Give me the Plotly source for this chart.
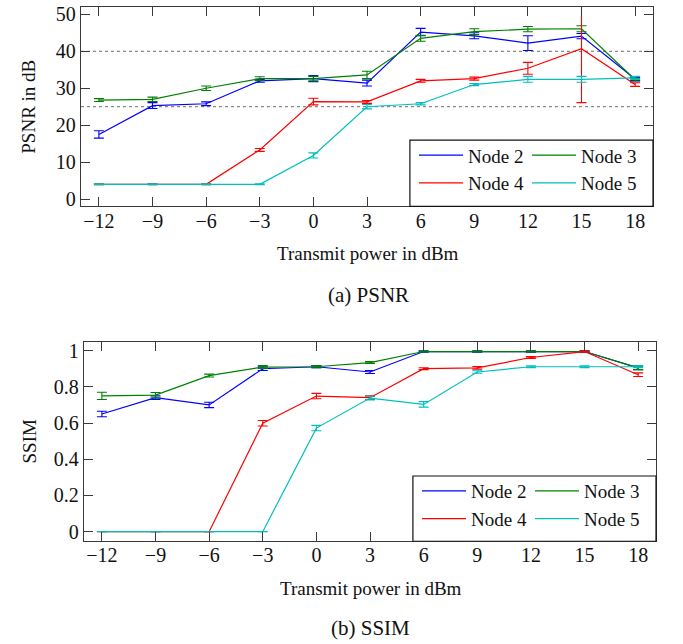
import plotly.graph_objects as go

# ---------------- data ----------------
power_dbm = [-12, -9, -6, -3, 0, 3, 6, 9, 12, 15, 18]
node_names = ["Node 2", "Node 3", "Node 4", "Node 5"]

psnr_node2 = [17.5, 25.3, 25.8, 32.0, 32.6, 31.4, 45.2, 44.2, 42.2, 44.1, 32.5]
psnr_node2_err = [1.0, 0.8, 0.5, 0.4, 0.8, 0.8, 1.0, 0.8, 2.0, 0.7, 0.4]
psnr_node3 = [26.8, 27.0, 30.0, 32.6, 32.6, 33.6, 43.5, 45.3, 46.0, 46.1, 32.3]
psnr_node3_err = [0.4, 0.6, 0.6, 0.5, 0.6, 1.0, 0.8, 0.8, 0.7, 0.8, 0.4]
psnr_node4 = [4.0, 4.0, 4.0, 13.3, 26.4, 26.3, 32.0, 32.6, 35.4, 40.7, 31.0]
psnr_node4_err = [0.1, 0.1, 0.1, 0.4, 0.9, 0.4, 0.4, 0.4, 1.6, 14.6, 0.5]
psnr_node5 = [4.0, 4.0, 4.0, 4.0, 11.8, 25.0, 25.8, 31.0, 32.4, 32.4, 32.8]
psnr_node5_err = [0.1, 0.1, 0.1, 0.1, 0.7, 0.6, 0.3, 0.3, 0.8, 0.8, 0.4]

ssim_node2 = [0.650, 0.740, 0.700, 0.900, 0.911, 0.882, 0.995, 0.995, 0.995, 0.995, 0.905]
ssim_node2_err = [0.015, 0.010, 0.015, 0.010, 0.006, 0.008, 0.004, 0.004, 0.004, 0.004, 0.010]
ssim_node3 = [0.750, 0.754, 0.862, 0.909, 0.911, 0.934, 0.995, 0.995, 0.995, 0.995, 0.905]
ssim_node3_err = [0.020, 0.015, 0.008, 0.008, 0.006, 0.005, 0.003, 0.003, 0.003, 0.003, 0.010]
ssim_node4 = [0.0, 0.0, 0.0, 0.599, 0.749, 0.740, 0.900, 0.905, 0.962, 0.995, 0.867]
ssim_node4_err = [0.0, 0.0, 0.0, 0.015, 0.015, 0.010, 0.005, 0.007, 0.005, 0.003, 0.010]
ssim_node5 = [0.0, 0.0, 0.0, 0.0, 0.572, 0.738, 0.703, 0.882, 0.911, 0.911, 0.911]
ssim_node5_err = [0.0, 0.0, 0.0, 0.0, 0.015, 0.010, 0.015, 0.007, 0.005, 0.005, 0.005]

psnr_reference_lines = [40, 25]

psnr_ticks = [0, 10, 20, 30, 40, 50]
ssim_ticks = [0, 0.2, 0.4, 0.6, 0.8, 1]

# ---------------- style ----------------
colors = ["#0000ff", "#008000", "#ff0000", "#00bfbf"]
FONT = "Liberation Serif, Times New Roman, serif"
W, H = 683, 644
AX = "#3a3a3a"

psnr_series = [(psnr_node2, psnr_node2_err), (psnr_node3, psnr_node3_err),
               (psnr_node4, psnr_node4_err), (psnr_node5, psnr_node5_err)]
ssim_series = [(ssim_node2, ssim_node2_err), (ssim_node3, ssim_node3_err),
               (ssim_node4, ssim_node4_err), (ssim_node5, ssim_node5_err)]

fig = go.Figure()

legend_top = ["legend", "legend2", "legend", "legend2"]
legend_bot = ["legend3", "legend4", "legend3", "legend4"]

for i, (vals, errs) in enumerate(psnr_series):
    fig.add_trace(go.Scatter(
        x=power_dbm, y=vals, mode="lines", name=node_names[i],
        line=dict(color=colors[i], width=1.2),
        error_y=dict(type="data", array=errs, visible=True, color=colors[i],
                     thickness=1.1, width=5),
        xaxis="x", yaxis="y", legend=legend_top[i], showlegend=True))

for i, (vals, errs) in enumerate(ssim_series):
    fig.add_trace(go.Scatter(
        x=power_dbm, y=vals, mode="lines", name=node_names[i],
        line=dict(color=colors[i], width=1.2),
        error_y=dict(type="data", array=errs, visible=True, color=colors[i],
                     thickness=1.1, width=5),
        xaxis="x2", yaxis="y2", legend=legend_bot[i], showlegend=True))


def px_x(p):
    return p / W


def px_y(p):
    return 1 - p / H


axis_common = dict(
    showline=True, linecolor=AX, linewidth=1.3, mirror="ticks",
    ticks="inside", ticklen=9, tickwidth=1.2, tickcolor=AX,
    showgrid=False, zeroline=False,
    tickfont=dict(family=FONT, size=20, color="#111"),
)

fig.update_layout(
    width=W, height=H, margin=dict(l=0, r=0, t=0, b=0),
    paper_bgcolor="white", plot_bgcolor="white",
    font=dict(family=FONT, size=19, color="#111"),
    xaxis=dict(domain=[px_x(81), px_x(653)], range=[-13, 19], tickvals=power_dbm,
               anchor="y", ticklabelstandoff=-4, **axis_common),
    yaxis=dict(domain=[px_y(205), px_y(3)], range=[-2, 52], tickvals=psnr_ticks,
               anchor="x", **axis_common),
    xaxis2=dict(domain=[px_x(84), px_x(656)], range=[-13, 19], tickvals=power_dbm,
                anchor="y2", ticklabelstandoff=-4, **axis_common),
    yaxis2=dict(domain=[px_y(544), px_y(342)], range=[-0.053, 1.049], tickvals=ssim_ticks,
                anchor="x2", **axis_common),
)

leg_common = dict(bgcolor="rgba(0,0,0,0)", borderwidth=0, font=dict(family=FONT, size=19, color="#111"),
                  orientation="v", xanchor="left", yanchor="top", itemwidth=44,
                  tracegroupgap=0, itemclick=False)
fig.update_layout(
    legend=dict(x=px_x(414), y=px_y(134), **leg_common),
    legend2=dict(x=px_x(527), y=px_y(134), **leg_common),
    legend3=dict(x=px_x(417), y=px_y(474), **leg_common),
    legend4=dict(x=px_x(530), y=px_y(474), **leg_common),
)

shapes = []
for v in psnr_reference_lines:
    shapes.append(dict(type="line", xref="x domain", yref="y", x0=0, x1=1, y0=v, y1=v,
                       line=dict(color="#8a8a8a", width=1.3, dash="dot"), layer="below"))
# legend frames
shapes.append(dict(type="rect", xref="x domain", yref="y domain", x0=0.575, x1=1, y0=0, y1=0.332,
                   line=dict(color="#111", width=1.2), fillcolor="white", layer="above"))
shapes.append(dict(type="rect", xref="x2 domain", yref="y2 domain", x0=0.575, x1=1, y0=0, y1=0.327,
                   line=dict(color="#111", width=1.2), fillcolor="white", layer="above"))
fig.update_layout(shapes=shapes)

annotations = [
    dict(text="PSNR in dB", x=px_x(29), y=px_y(104), textangle=-90, font=dict(size=19)),
    dict(text="SSIM", x=px_x(29), y=px_y(443), textangle=-90, font=dict(size=19)),
    dict(text="Transmit power in dBm", x=px_x(368), y=px_y(253), font=dict(size=19)),
    dict(text="Transmit power in dBm", x=px_x(371), y=px_y(592), font=dict(size=19)),
    dict(text="(a) PSNR", x=px_x(368), y=px_y(295), font=dict(size=21)),
    dict(text="(b) SSIM", x=px_x(370), y=px_y(632), font=dict(size=21)),
]
for a in annotations:
    a.update(xref="paper", yref="paper", showarrow=False, xanchor="center", yanchor="middle")
    a["font"].update(family=FONT, color="#111")
fig.update_layout(annotations=annotations)

fig.write_html("out.html", config={"displayModeBar": False},
               post_script="document.body.style.margin='0';")
